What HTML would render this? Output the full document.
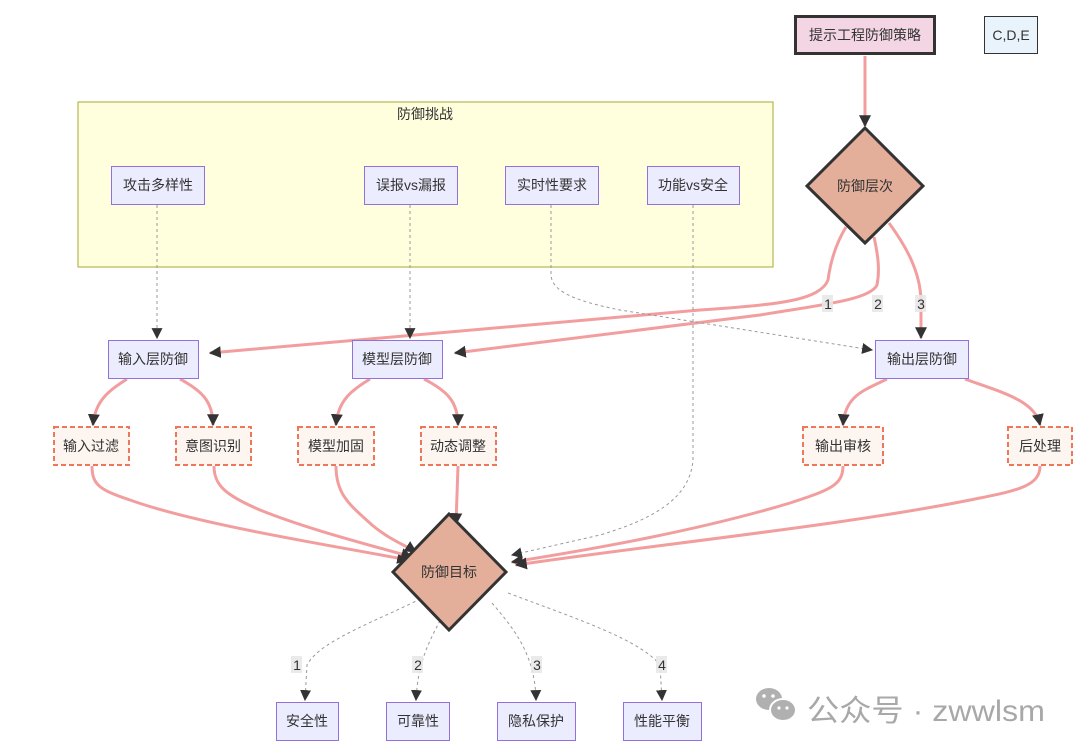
<!DOCTYPE html>
<html><head><meta charset="utf-8"><style>
html,body{margin:0;padding:0;background:#fff;}
svg{display:block;}
text{font-family:"Liberation Sans","Noto Sans CJK SC",sans-serif;font-size:14px;fill:#333;}
</style></head><body>
<svg width="1080" height="753" viewBox="0 0 1080 753" xmlns="http://www.w3.org/2000/svg">
<defs>
<marker id="ah" viewBox="0 0 10 10" refX="9" refY="5" markerWidth="11" markerHeight="11" orient="auto" markerUnits="userSpaceOnUse">
<path d="M0,0 L10,5 L0,10 z" fill="#333"/></marker>
<marker id="a" viewBox="0 0 10 10" refX="9" refY="5" markerWidth="12" markerHeight="12" orient="auto" markerUnits="userSpaceOnUse">
<path d="M0,0 L10,5 L0,10 z" fill="#333"/></marker>
</defs>
<rect x="78" y="102" width="695" height="165" fill="#ffffde" stroke="#aaaa33" stroke-width="1"/>
<text x="425" y="119" text-anchor="middle">防御挑战</text>

<g fill="none" stroke="#f29e9e" stroke-width="3">
<path d="M865,56 L865,126" marker-end="url(#a)"/>
<path d="M846,227 C835,245 830,265 828,280 C820,300 780,305 700,310 L210,353" marker-end="url(#a)"/>
<path d="M874,237 C878,255 880,270 877,285 C870,300 820,305 760,315 L455,353" marker-end="url(#a)"/>
<path d="M889,223 C905,245 920,270 921,300 L921,338" marker-end="url(#a)"/>
<path d="M127,379 C110,390 95,400 93,425" marker-end="url(#a)"/>
<path d="M180,379 C200,390 213,400 213,425" marker-end="url(#a)"/>
<path d="M370,379 C352,390 338,400 336,425" marker-end="url(#a)"/>
<path d="M424,379 C445,390 458,400 458,425" marker-end="url(#a)"/>
<path d="M887,379 C865,390 845,395 843,425" marker-end="url(#a)"/>
<path d="M965,379 C1000,392 1035,400 1040,425" marker-end="url(#a)"/>
<path d="M92,466 C92,485 100,490 130,500 C200,525 330,545 408,560" marker-end="url(#a)"/>
<path d="M214,466 C214,485 225,495 260,510 C310,530 370,545 412,557" marker-end="url(#a)"/>
<path d="M336,466 C336,495 350,505 372,525 C390,540 405,545 416,552" marker-end="url(#a)"/>
<path d="M458,466 L456,524" marker-end="url(#a)"/>
<path d="M843,466 C843,485 830,490 790,503 C700,530 600,548 512,562" marker-end="url(#a)"/>
<path d="M1040,466 C1040,485 1020,490 980,498 C850,525 650,545 516,565" marker-end="url(#a)"/>
</g>

<g fill="none" stroke="#999" stroke-width="1" stroke-dasharray="3,3">
<path d="M157,205 L157,338" marker-end="url(#ah)"/>
<path d="M410,205 L410,338" marker-end="url(#ah)"/>
<path d="M551,205 L551,275 C552,290 570,300 620,310 L872,350" marker-end="url(#ah)"/>
<path d="M693,205 L693,460 C690,500 650,520 600,535 L512,555" marker-end="url(#ah)"/>
<path d="M426,596 C380,620 320,640 307,665 L305,700" marker-end="url(#ah)"/>
<path d="M443,615 C430,640 418,660 416,700" marker-end="url(#ah)" />
<path d="M492,603 C515,630 535,655 536,700" marker-end="url(#ah)"/>
<path d="M508,593 C580,620 640,640 660,665 L662,700" marker-end="url(#ah)"/>
</g>

<g>
<rect x="822" y="295" width="11" height="17" fill="#e8e8e8" opacity="0.9"/><text x="828" y="309" text-anchor="middle">1</text>
<rect x="872" y="295" width="11" height="17" fill="#e8e8e8" opacity="0.9"/><text x="878" y="309" text-anchor="middle">2</text>
<rect x="915" y="295" width="11" height="17" fill="#e8e8e8" opacity="0.9"/><text x="921" y="309" text-anchor="middle">3</text>
<rect x="291" y="656" width="11" height="17" fill="#e8e8e8" opacity="0.9"/><text x="297" y="670" text-anchor="middle">1</text>
<rect x="412" y="656" width="11" height="17" fill="#e8e8e8" opacity="0.9"/><text x="418" y="670" text-anchor="middle">2</text>
<rect x="531" y="656" width="11" height="17" fill="#e8e8e8" opacity="0.9"/><text x="537" y="670" text-anchor="middle">3</text>
<rect x="656" y="656" width="11" height="17" fill="#e8e8e8" opacity="0.9"/><text x="662" y="670" text-anchor="middle">4</text>
</g>

<rect x="795.5" y="16.5" width="139" height="37" fill="#f3d5e3" stroke="#333" stroke-width="3"/>
<text x="865" y="40" text-anchor="middle">提示工程防御策略</text>
<rect x="984.5" y="16.5" width="53" height="37" fill="#e8f3fc" stroke="#333" stroke-width="1"/>
<text x="1011" y="40" text-anchor="middle">C,D,E</text>

<polygon points="865,128 923,186 865,243 807,186" fill="#e3ae9a" stroke="#333" stroke-width="3"/>
<text x="865" y="191" text-anchor="middle">防御层次</text>
<polygon points="449,514 506,572 449,630 393,572" fill="#e3ae9a" stroke="#333" stroke-width="3"/>
<text x="449" y="577" text-anchor="middle">防御目标</text>

<g fill="#ececff" stroke="#9370db" stroke-width="1">
<rect x="111.5" y="166.5" width="93" height="38"/>
<rect x="364.5" y="166.5" width="93" height="38"/>
<rect x="505.5" y="166.5" width="93" height="38"/>
<rect x="647.5" y="166.5" width="92" height="38"/>
<rect x="108.5" y="340.5" width="90" height="38"/>
<rect x="352.5" y="340.5" width="90" height="38"/>
<rect x="875.5" y="340.5" width="93" height="38"/>
<rect x="276.5" y="702.5" width="62" height="38"/>
<rect x="386.5" y="702.5" width="63" height="38"/>
<rect x="497.5" y="702.5" width="78" height="38"/>
<rect x="623.5" y="702.5" width="78" height="38"/>
</g>
<text x="158" y="190" text-anchor="middle">攻击多样性</text>
<text x="411" y="190" text-anchor="middle">误报vs漏报</text>
<text x="552" y="190" text-anchor="middle">实时性要求</text>
<text x="693" y="190" text-anchor="middle">功能vs安全</text>
<text x="153" y="364" text-anchor="middle">输入层防御</text>
<text x="397" y="364" text-anchor="middle">模型层防御</text>
<text x="922" y="364" text-anchor="middle">输出层防御</text>
<text x="307" y="726" text-anchor="middle">安全性</text>
<text x="418" y="726" text-anchor="middle">可靠性</text>
<text x="536" y="726" text-anchor="middle">隐私保护</text>
<text x="662" y="726" text-anchor="middle">性能平衡</text>

<g fill="#fdf5ef" stroke="#f0765a" stroke-width="2" stroke-dasharray="5,3">
<rect x="54" y="427" width="75" height="38"/>
<rect x="176" y="427" width="75" height="38"/>
<rect x="298" y="427" width="76" height="38"/>
<rect x="421" y="427" width="75" height="38"/>
<rect x="803" y="427" width="80" height="38"/>
<rect x="1008" y="427" width="64" height="38"/>
</g>
<text x="91" y="451" text-anchor="middle">输入过滤</text>
<text x="213" y="451" text-anchor="middle">意图识别</text>
<text x="336" y="451" text-anchor="middle">模型加固</text>
<text x="458" y="451" text-anchor="middle">动态调整</text>
<text x="843" y="451" text-anchor="middle">输出审核</text>
<text x="1040" y="451" text-anchor="middle">后处理</text>

<g fill="#b0b0b0">
<ellipse cx="769" cy="699" rx="13" ry="11"/>
<ellipse cx="783" cy="710" rx="13" ry="11" stroke="#fff" stroke-width="2"/>
<circle cx="764" cy="696" r="1.8" fill="#fff"/><circle cx="773" cy="696" r="1.8" fill="#fff"/>
<circle cx="779" cy="708" r="1.6" fill="#fff"/><circle cx="787" cy="708" r="1.6" fill="#fff"/>
</g>
<text x="807" y="721" textLength="238" lengthAdjust="spacingAndGlyphs" style="font-size:30px;fill:#a8a8a8;">公众号 · zwwlsm</text>
</svg>
</body></html>
